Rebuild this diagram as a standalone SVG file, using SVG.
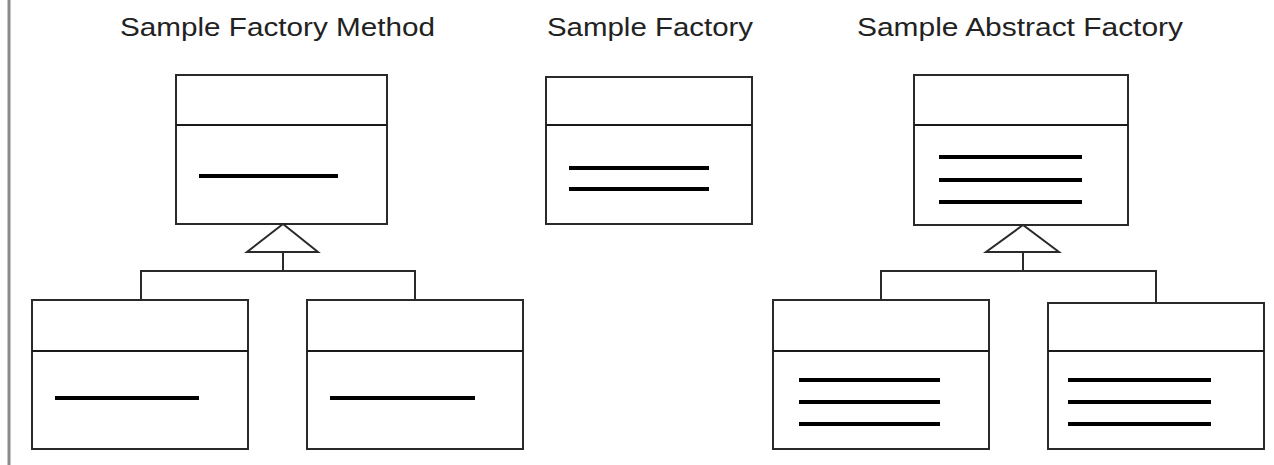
<svg xmlns="http://www.w3.org/2000/svg" width="1274" height="465" viewBox="0 0 1274 465">
<style>
.title{font-family:"Liberation Sans",Arial,sans-serif;font-size:25px;fill:#222}
.box{fill:#fff;stroke:#2a2a2a;stroke-width:2}
.div{stroke:#1a1a1a;stroke-width:2}
.attr{stroke:#000;stroke-width:4}
.conn{fill:none;stroke:#2a2a2a;stroke-width:2}
.tri{fill:#fff;stroke:#2a2a2a;stroke-width:2}
</style>
<rect width="1274" height="465" fill="#fff"/>
<line x1="9" y1="0" x2="9" y2="465" stroke="#8a8a8a" stroke-width="3"/>
<text class="title" x="120" y="36" textLength="315" lengthAdjust="spacingAndGlyphs">Sample Factory Method</text>
<text class="title" x="547" y="36" textLength="206" lengthAdjust="spacingAndGlyphs">Sample Factory</text>
<text class="title" x="857" y="36" textLength="326" lengthAdjust="spacingAndGlyphs">Sample Abstract Factory</text>
<g id="fm-parent">
<rect class="box" x="176" y="75" width="211" height="149"/>
<line class="div" x1="176" y1="125" x2="387" y2="125"/>
<line class="attr" x1="199" y1="176" x2="338" y2="176"/>
</g>
<g id="fm-child1">
<rect class="box" x="32" y="300" width="216" height="149"/>
<line class="div" x1="32" y1="351" x2="248" y2="351"/>
<line class="attr" x1="55" y1="398" x2="199" y2="398"/>
</g>
<g id="fm-child2">
<rect class="box" x="307" y="300" width="216" height="149"/>
<line class="div" x1="307" y1="351" x2="523" y2="351"/>
<line class="attr" x1="330" y1="398" x2="475" y2="398"/>
</g>
<g id="sf">
<rect class="box" x="546" y="77" width="206" height="147"/>
<line class="div" x1="546" y1="125" x2="752" y2="125"/>
<line class="attr" x1="569" y1="168" x2="709" y2="168"/>
<line class="attr" x1="569" y1="189" x2="709" y2="189"/>
</g>
<g id="af-parent">
<rect class="box" x="914" y="75" width="214" height="150"/>
<line class="div" x1="914" y1="125" x2="1128" y2="125"/>
<line class="attr" x1="939" y1="157" x2="1082" y2="157"/>
<line class="attr" x1="939" y1="180" x2="1082" y2="180"/>
<line class="attr" x1="939" y1="202" x2="1082" y2="202"/>
</g>
<g id="af-child1">
<rect class="box" x="773" y="300" width="216" height="149"/>
<line class="div" x1="773" y1="351" x2="989" y2="351"/>
<line class="attr" x1="799" y1="380" x2="940" y2="380"/>
<line class="attr" x1="799" y1="402" x2="940" y2="402"/>
<line class="attr" x1="799" y1="424" x2="940" y2="424"/>
</g>
<g id="af-child2">
<rect class="box" x="1048" y="303" width="216" height="146"/>
<line class="div" x1="1048" y1="351" x2="1264" y2="351"/>
<line class="attr" x1="1068" y1="380" x2="1211" y2="380"/>
<line class="attr" x1="1068" y1="402" x2="1211" y2="402"/>
<line class="attr" x1="1068" y1="424" x2="1211" y2="424"/>
</g>
<g id="connectors">
<polygon class="tri" points="283,224 247,252 318,252"/>
<polyline class="conn" points="283,252 283,271"/>
<polyline class="conn" points="141,300 141,271 415,271 415,300"/>
<polygon class="tri" points="1023,225 986,252 1059,252"/>
<polyline class="conn" points="1023,252 1023,271"/>
<polyline class="conn" points="881,300 881,271 1156,271 1156,303"/>
</g>
</svg>
